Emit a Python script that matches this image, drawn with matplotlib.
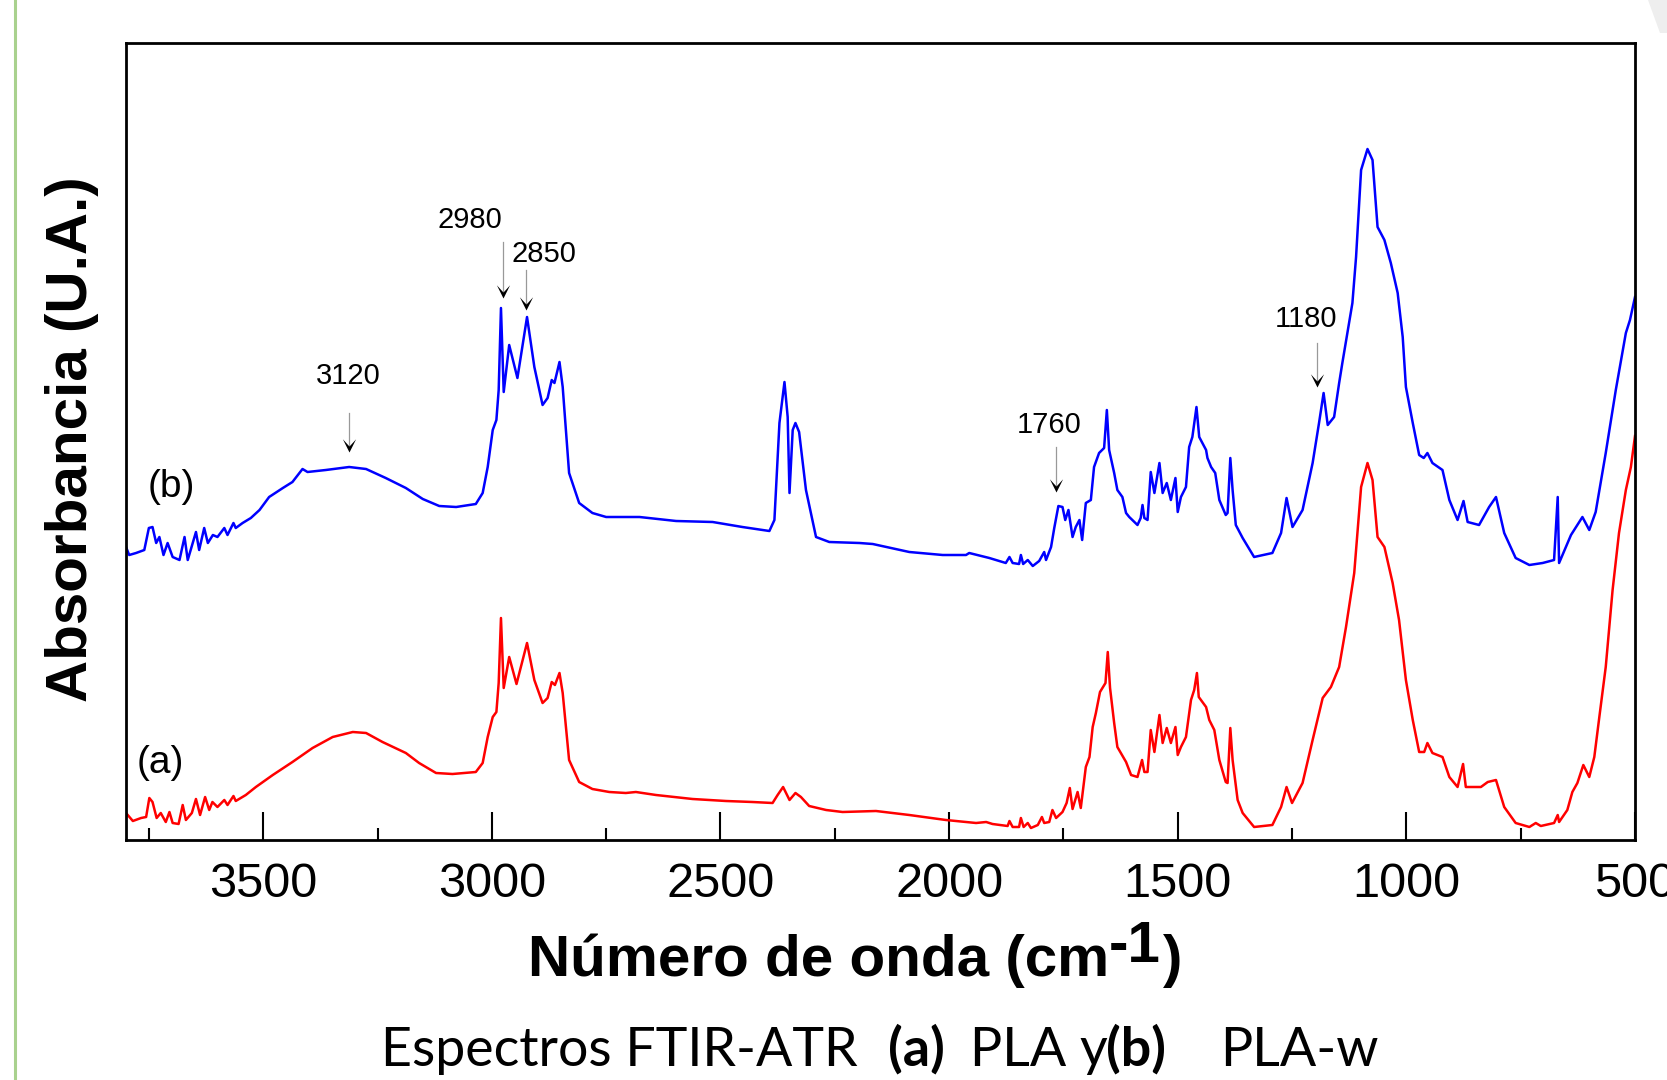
import numpy as np
import matplotlib
matplotlib.use('Agg')
import matplotlib.pyplot as plt
from matplotlib.path import Path
from matplotlib.lines import Line2D
from matplotlib.patches import Polygon

plt.rcParams['font.family'] = ['Liberation Sans', 'DejaVu Sans']

# ---- data (wavenumber in cm-1, absorbance in arbitrary units) ----
wn_b = [3800, 3793, 3778, 3760, 3750, 3742, 3734, 3727, 3718, 3709,
        3698, 3683, 3672, 3665, 3647, 3640, 3629, 3621, 3610, 3600,
        3585, 3578, 3565, 3560, 3545, 3527, 3508, 3487, 3457, 3436,
        3414, 3403, 3363, 3312, 3275, 3232, 3188, 3151, 3115, 3078,
        3035, 3020, 3009, 2998, 2990, 2985, 2980, 2974, 2962, 2944,
        2923, 2907, 2889, 2878, 2869, 2863, 2852, 2845, 2831, 2809,
        2780, 2750, 2707, 2677, 2597, 2517, 2452, 2393, 2382, 2371,
        2360, 2353, 2349, 2342, 2336, 2328, 2313, 2291, 2262, 2196,
        2167, 2087, 2014, 1963, 1956, 1912, 1876, 1868, 1861, 1847,
        1843, 1838, 1828, 1817, 1803, 1792, 1788, 1777, 1770, 1761,
        1752, 1746, 1739, 1730, 1723, 1715, 1709, 1701, 1690, 1683,
        1672, 1661, 1655, 1650, 1639, 1632, 1621, 1613, 1606, 1588,
        1581, 1577, 1573, 1566, 1559, 1551, 1540, 1533, 1524, 1515,
        1505, 1500, 1493, 1482, 1475, 1468, 1459, 1453, 1438, 1435,
        1427, 1418, 1409, 1395, 1391, 1385, 1380, 1373, 1358, 1333,
        1293, 1274, 1262, 1249, 1227, 1205, 1191, 1181, 1172, 1158,
        1147, 1140, 1129, 1118, 1110, 1099, 1085, 1074, 1063, 1048,
        1034, 1019, 1008, 1001, 986, 972, 962, 954, 943, 921,
        906, 888, 875, 866, 841, 819, 804, 786, 761, 731,
        702, 677, 669, 666, 640, 626, 615, 600, 586, 564,
        542, 520, 511, 500]
abs_b = [293, 285, 287, 290, 312, 313, 297, 303, 285, 297,
         283, 280, 303, 280, 308, 290, 312, 297, 305, 303,
         312, 305, 317, 312, 317, 322, 330, 343, 352, 358,
         371, 368, 370, 373, 371, 362, 352, 341, 334, 333,
         336, 347, 373, 410, 420, 450, 532, 448, 495, 462,
         523, 473, 435, 442, 460, 457, 478, 453, 367, 337,
         327, 323, 323, 323, 319, 318, 313, 309, 320, 417,
         458, 423, 347, 410, 417, 408, 350, 303, 298, 297,
         296, 288, 285, 285, 287, 282, 277, 283, 277, 276,
         285, 276, 280, 274, 279, 288, 280, 293, 312, 334,
         333, 320, 330, 303, 313, 320, 300, 337, 340, 373,
         387, 392, 430, 390, 367, 350, 343, 327, 323, 315,
         322, 335, 322, 320, 368, 347, 377, 347, 357, 340,
         362, 328, 343, 353, 393, 403, 433, 403, 390, 382,
         373, 367, 340, 325, 327, 382, 350, 315, 302, 283,
         287, 307, 342, 313, 330, 377, 417, 447, 415, 423,
         457, 477, 507, 537, 583, 670, 691, 680, 613, 600,
         577, 547, 503, 453, 417, 385, 382, 387, 377, 370,
         340, 320, 339, 318, 315, 333, 343, 307, 282, 275,
         277, 280, 343, 277, 305, 315, 323, 310, 328, 387,
         450, 507, 520, 543]

wn_a = [3800, 3785, 3767, 3756, 3749, 3742, 3733, 3724, 3713, 3705,
        3698, 3685, 3676, 3669, 3656, 3647, 3638, 3627, 3618, 3611,
        3600, 3585, 3578, 3565, 3560, 3538, 3516, 3479, 3436, 3392,
        3348, 3304, 3275, 3239, 3188, 3159, 3122, 3086, 3035, 3020,
        3009, 2998, 2990, 2985, 2980, 2974, 2962, 2946, 2923, 2907,
        2889, 2878, 2869, 2862, 2852, 2845, 2831, 2809, 2780, 2743,
        2707, 2685, 2641, 2561, 2488, 2430, 2386, 2375, 2363, 2349,
        2336, 2324, 2306, 2269, 2233, 2160, 2087, 2007, 1941, 1919,
        1905, 1872, 1868, 1861, 1847, 1843, 1837, 1828, 1821, 1806,
        1797, 1792, 1781, 1774, 1766, 1752, 1743, 1736, 1730, 1719,
        1712, 1701, 1693, 1686, 1679, 1670, 1658, 1653, 1648, 1639,
        1632, 1613, 1602, 1588, 1578, 1573, 1566, 1559, 1551, 1540,
        1533, 1524, 1515, 1505, 1500, 1493, 1482, 1471, 1464, 1458,
        1454, 1438, 1431, 1420, 1409, 1395, 1391, 1385, 1380, 1369,
        1358, 1333, 1293, 1274, 1262, 1250, 1227, 1205, 1183, 1165,
        1147, 1132, 1114, 1099, 1085, 1074, 1063, 1048, 1030, 1016,
        1001, 986, 972, 961, 954, 943, 921, 906, 888, 876,
        870, 837, 822, 804, 786, 761, 731, 717, 706, 677,
        669, 666, 648, 637, 626, 613, 600, 589, 578, 564,
        549, 535, 520, 509, 500]
abs_a = [27, 19, 22, 23, 42, 38, 22, 27, 18, 28,
         17, 16, 35, 20, 27, 41, 25, 43, 30, 38,
         33, 40, 35, 44, 39, 45, 53, 65, 78, 92,
         103, 108, 107, 98, 87, 77, 67, 66, 68, 77,
         103, 123, 128, 157, 222, 152, 183, 156, 197, 160,
         137, 142, 158, 155, 167, 147, 80, 58, 51, 48,
         47, 48, 45, 41, 39, 38, 37, 45, 53, 40,
         47, 43, 34, 30, 28, 29, 25, 20, 17, 18,
         16, 14, 19, 13, 13, 22, 13, 17, 12, 15,
         23, 17, 18, 30, 22, 28, 37, 52, 31, 48,
         32, 73, 83, 113, 127, 148, 157, 188, 152, 117,
         93, 78, 65, 63, 80, 68, 68, 110, 88, 125,
         97, 112, 97, 113, 85, 93, 103, 140, 150, 167,
         143, 133, 120, 110, 80, 58, 57, 112, 80, 40,
         27, 13, 15, 33, 53, 37, 57, 100, 142, 153,
         173, 213, 267, 353, 377, 360, 303, 293, 257, 220,
         160, 120, 88, 88, 97, 87, 83, 63, 53, 76,
         53, 53, 58, 60, 33, 17, 13, 17, 14, 17,
         25, 18, 30, 48, 57, 75, 63, 83, 123, 173,
         250, 307, 350, 373, 404]

# peak labels: text, arrow x, text x, text y, arrow start y, arrow tip y
peak_labels = ['3120', '2980', '2850', '1760', '1180']
peak_x = [3313, 2975, 2925, 1766, 1196]
peak_text_x = [3313, 3047, 2886, 1781, 1220]
peak_text_y = [464, 620, 586, 415, 521]
peak_start_y = [427, 598, 570, 393, 497]
peak_tip_y = [388, 542, 530, 348, 453]

major_ticks = [3500, 3000, 2500, 2000, 1500, 1000, 500]
minor_ticks = [3750, 3250, 2750, 2250, 1750, 1250, 750]

# caption pieces and where each one starts (px)
caption = ['Espectros FTIR-ATR', '(a)', 'PLA y', '(b)', 'PLA-w']
caption_bold = [False, True, False, True, False]
caption_x = [381, 888, 970, 1106, 1220]

W, H = 1667, 1080
fig = plt.figure(figsize=(W / 100, H / 100), dpi=100)
ax = fig.add_axes([126 / W, 1 - 840 / H, (1635 - 126) / W, (840 - 43) / H])

ax.plot(wn_b, abs_b, color='#0000ff', lw=1.8)
ax.plot(wn_a, abs_a, color='#ff0000', lw=1.8)

ax.set_xlim(3800, 500)
ax.set_ylim(0, 797)
ax.set_xticks(major_ticks)
ax.set_xticks(minor_ticks, minor=True)
ax.set_yticks([])
ax.tick_params(axis='x', which='major', direction='in', length=20, width=1.5,
               labelsize=35, pad=16)
ax.tick_params(axis='x', which='minor', direction='in', length=9, width=1.5)
for sp in ax.spines.values():
    sp.set_linewidth(2)

# arrowhead marker (tip at origin)
head = Path([(0, 0), (-0.5, 1), (0, 0.45), (0.5, 1), (0, 0)],
            [Path.MOVETO, Path.LINETO, Path.LINETO, Path.LINETO, Path.CLOSEPOLY])
for lab, xa, xt, yt, y0, y1 in zip(peak_labels, peak_x, peak_text_x, peak_text_y,
                                    peak_start_y, peak_tip_y):
    ax.text(xt, yt, lab, fontsize=21, ha='center', va='center')
    ax.plot([xa, xa], [y0, y1 + 4], color='0.6', lw=0.9)
    ax.plot([xa], [y1], marker=head, ms=19, color='black', mew=0)

ax.text(3702, 353, '(b)', fontsize=28, ha='center', va='center')
ax.text(3724, 77, '(a)', fontsize=28, ha='center', va='center')

# axis titles
fig.text(72 / W, 1 - 439 / H, 'Absorbancia (U.A.)', rotation=90, fontsize=42,
         fontweight='bold', ha='center', va='center')

r = fig.canvas.get_renderer()
def place(s, x, ybase, **kw):
    t = fig.text(x / W, 1 - ybase / H, s, ha='left', va='baseline', **kw)
    return t, x + t.get_window_extent(renderer=r).width

_, xx = place('Número de onda (cm', 528, 976, fontsize=42, fontweight='bold')
_, xx = place('-1', xx, 962, fontsize=42, fontweight='bold')
place(')', xx + 2, 976, fontsize=42, fontweight='bold')

# caption: size the font so the first piece spans the same width as in the picture
fam = ['Lato', 'DejaVu Sans']
probe, xend = place(caption[0], 0, -100, family=fam, fontsize=40)
cap_size = 40 * (859 - 381) / (xend - 0)
probe.remove()
for s, b, x in zip(caption, caption_bold, caption_x):
    place(s, x, 1066, family=fam, fontsize=cap_size,
          fontweight='bold' if b else 'normal')

# decorative green line at left edge and faint corner shape
fig.add_artist(Line2D([14.7 / W, 14.7 / W], [0, 1], color='#a9d18e', lw=2.2))
fig.add_artist(Polygon([(1648 / W, 1), (1667 / W, 1), (1667 / W, 1 - 33 / H),
                        (1660 / W, 1 - 33 / H)], closed=True, color='#eeeeee', lw=0))

fig.savefig('out.png', dpi=100)
